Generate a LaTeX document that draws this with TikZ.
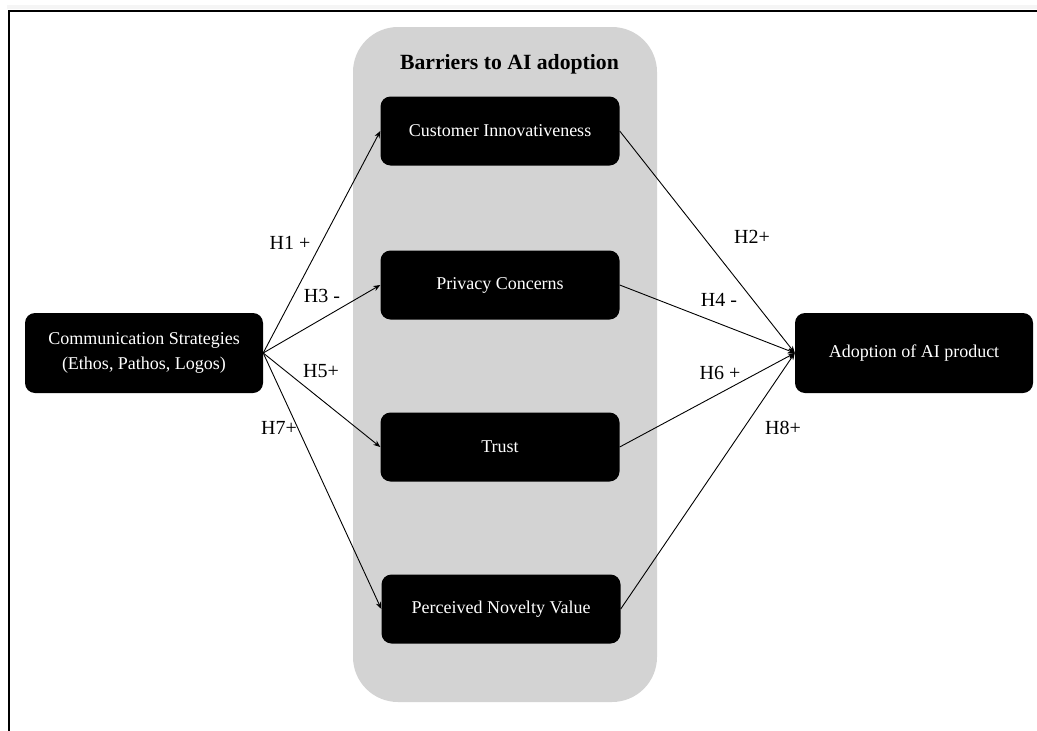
\documentclass[tikz,border=0pt]{standalone}
\usepackage{fontspec}
\setmainfont{Liberation Serif}
\usetikzlibrary{arrows.meta}
\definecolor{panelgray}{RGB}{211,211,211}
\begin{document}
\begin{tikzpicture}[x=1pt,y=-1pt,
  box/.style={fill=black, rounded corners=10pt, text=white,
    font=\fontsize{18}{25}\selectfont, align=center, inner sep=0pt,
    minimum width=239pt, minimum height=69pt},
  bigbox/.style={box, minimum width=238pt, minimum height=80pt},
  link/.style={-{Stealth[length=7pt,width=5.5pt]}, line width=0.9pt},
  lbl/.style={font=\fontsize{20}{22}\selectfont, inner sep=0pt}]
\useasboundingbox (0,0) rectangle (1037,731);
\fill[gray!8] (7,5) rectangle (1037,9);
\draw[line width=2pt] (9,731) -- (9,10.5) -- (1037,10.5);
\node[fill=panelgray, rounded corners=45pt, minimum width=304pt,
  minimum height=675pt, inner sep=0pt] (panel) at (505,364.5) {};
\node[font=\bfseries\fontsize{21.7}{24}\selectfont, inner sep=0pt] (title) at (509.5,64) {Barriers to AI adoption};
\node[box] (ci) at (500,131) {Customer Innovativeness};
\node[box] (pc) at (500,285) {Privacy Concerns};
\node[box] (tr) at (500,447) {Trust};
\node[box] (pnv) at (501,609) {Perceived Novelty Value};
\node[bigbox] (comm) at (144,353) {Communication Strategies\\(Ethos, Pathos, Logos)};
\node[bigbox] (adopt) at (914,353) {Adoption of AI product};
\draw[link] (comm.east) -- (ci.west);
\draw[link] (comm.east) -- (pc.west);
\draw[link] (comm.east) -- (tr.west);
\draw[link] (comm.east) -- (pnv.west);
\draw[link] (ci.east) -- (adopt.west);
\draw[link] (pc.east) -- (adopt.west);
\draw[link] (tr.east) -- (adopt.west);
\draw[link] (pnv.east) -- (adopt.west);
\node[lbl] (h1) at (290,243) {H1 +};
\node[lbl] (h3) at (322,296) {H3 -};
\node[lbl] (h5) at (321,371) {H5+};
\node[lbl] (h7) at (279,428) {H7+};
\node[lbl] (h2) at (752,237) {H2+};
\node[lbl] (h4) at (719,300) {H4 -};
\node[lbl] (h6) at (720,373) {H6 +};
\node[lbl] (h8) at (783,428) {H8+};
\end{tikzpicture}
\end{document}
